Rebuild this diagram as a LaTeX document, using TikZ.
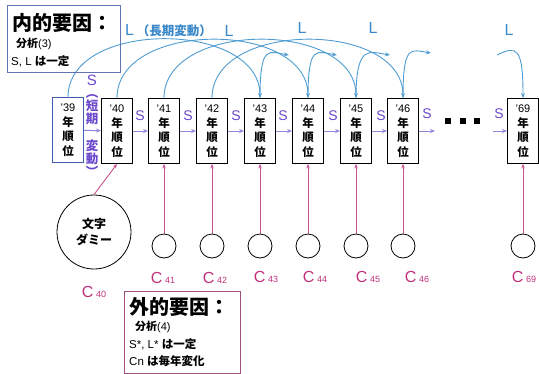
\documentclass[tikz,border=0pt]{standalone}
\usepackage{fontspec}
\setmainfont{Noto Sans CJK JP}
\newfontfamily\lat{Liberation Sans}
\newfontfamily\jpf{Noto Sans CJK JP}
\usetikzlibrary{arrows.meta}
\definecolor{sblue}{HTML}{3A88C8}
\definecolor{arcblue}{HTML}{4E9CD2}
\definecolor{spurple}{HTML}{6A48CC}
\definecolor{sarr}{HTML}{9484DA}
\definecolor{cpink}{HTML}{C0307A}
\definecolor{lpink}{HTML}{C8508E}
\definecolor{inbox}{HTML}{6274B4}
\definecolor{outbox}{HTML}{A0507C}
\definecolor{boxblue}{HTML}{3E5CB0}
\begin{document}
\begin{tikzpicture}[x=1pt,y=-1pt,
  yr/.style={draw=black, line width=0.9pt, minimum width=31pt, minimum height=65pt, inner sep=0pt, align=center, font=\fontsize{11.5}{14.5}\selectfont\bfseries},
  sar/.style={draw=sarr, line width=1pt, -{Stealth[length=5pt,width=4pt]}},
  slab/.style={text=spurple, font=\lat\fontsize{14}{14}\selectfont, inner sep=0pt},
  vlab/.style={text=spurple, font=\fontsize{12.5}{13}\selectfont\bfseries, align=center, inner sep=0pt},
  arc/.style={draw=arcblue, line width=0.9pt, -{Stealth[length=5pt,width=4pt]}},
  llab/.style={text=sblue, font=\lat\fontsize{16}{16}\selectfont, inner sep=0pt},
  sc/.style={circle, draw=black, line width=0.8pt, minimum size=24pt, inner sep=0pt},
  pk/.style={draw=lpink, line width=0.9pt, -{Stealth[length=4.5pt,width=3.5pt]}},
  clab/.style={text=cpink, font=\lat\fontsize{16}{16}\selectfont, inner sep=0pt},
  tl/.style={anchor=west, inner sep=0pt},
]
\useasboundingbox (0,0) rectangle (539,373);
\newcommand{\yrtext}[1]{{\mdseries\lat\fontsize{11}{11}\selectfont ’#1}\\年\\順\\位}
\newcommand{\cl}[1]{C\,{\lat\fontsize{9}{9}\selectfont #1}}

% year boxes
\node[yr, draw=boxblue] (b39) at (68,130) {\yrtext{39}};
\node[yr] (b40) at (117,131) {\yrtext{40}};
\node[yr] (b41) at (164,131) {\yrtext{41}};
\node[yr] (b42) at (212,131) {\yrtext{42}};
\node[yr] (b43) at (260,131) {\yrtext{43}};
\node[yr] (b44) at (308,131) {\yrtext{44}};
\node[yr] (b45) at (356,131) {\yrtext{45}};
\node[yr] (b46) at (403,131) {\yrtext{46}};
\node[yr] (b69) at (523,131) {\yrtext{69}};

% S arrows
\coordinate (e46) at (435,131);
\coordinate (s69) at (493,131);
\draw[sar] (b39) -- (b40);
\draw[sar] (b40) -- (b41);
\draw[sar] (b41) -- (b42);
\draw[sar] (b42) -- (b43);
\draw[sar] (b43) -- (b44);
\draw[sar] (b44) -- (b45);
\draw[sar] (b45) -- (b46);
\draw[sar] (b46) -- (e46);
\draw[sar] (s69) -- (b69);

\node[slab] (sa) at (140,116) {S};
\node[slab] (sb) at (188,116) {S};
\node[slab] (sc1) at (236,116) {S};
\node[slab] (sd) at (283,116) {S};
\node[slab] (se) at (333,116) {S};
\node[slab] (sf) at (381,116) {S};
\node[slab] (sg) at (427,114) {S};
\node[slab] (sh) at (499,114) {S};

\node[slab, font=\lat\fontsize{15}{15}\selectfont] (vs) at (92,80) {S};
\node[vlab] (vtop) at (92,110) {︵\\短\\期};
\node[vlab] (vbot) at (92,158) {変\\動\\︶};

% dots
\fill (445,118) rectangle (451,124);
\fill (460,118) rectangle (466,124);
\fill (474,118) rectangle (480,124);

% long arcs
\draw[arc] (b39.north) .. controls +(0,-78) and +(0,-78) .. (b43.north);
\draw[arc] (b40.north) .. controls +(0,-78) and +(0,-78) .. (b44.north);
\draw[arc] (b41.north) .. controls +(0,-78) and +(0,-78) .. (b45.north);
\draw[arc] (b42.north) .. controls +(0,-78) and +(0,-78) .. (b46.north);

% hooks
\coordinate (h43) at (289,55);
\coordinate (h44) at (337,55);
\coordinate (h45) at (390,55);
\coordinate (h46) at (431,53);
\coordinate (h69) at (497,55);
\draw[arc] (b43.north) .. controls +(0,-55) and +(-20,-3) .. (h43);
\draw[arc] (b44.north) .. controls +(0,-55) and +(-20,-3) .. (h44);
\draw[arc] (b45.north) .. controls +(0,-55) and +(-20,-3) .. (h45);
\draw[arc] (b46.north) .. controls +(0,-55) and +(-20,-3) .. (h46);
\draw[arc] (h69) .. controls +(20,-10) and +(0,-50) .. (b69.north);

% L labels
\node[llab, anchor=west] (l1) at (125,31) {L\,{\jpf\fontsize{12.5}{12.5}\selectfont\bfseries（長期変動）}};
\node[llab] (l2) at (229,31) {L};
\node[llab] (l3) at (302,28) {L};
\node[llab] (l4) at (373,28) {L};
\node[llab] (l5) at (509,30) {L};

% circles
\node[circle, draw=black, line width=0.8pt, minimum size=74pt, inner sep=0pt, align=center, font=\fontsize{12}{15.5}\selectfont\bfseries] (dummy) at (94,232) {文字\\ダミー};
\node[sc] (c41) at (164,246) {};
\node[sc] (c42) at (212,246) {};
\node[sc] (c43) at (260,246) {};
\node[sc] (c44) at (308,246) {};
\node[sc] (c45) at (356,246) {};
\node[sc] (c46) at (403,246) {};
\node[sc] (c69) at (523,246) {};

\draw[pk] (dummy.north) -- (b40.south);
\draw[pk] (c41) -- (b41);
\draw[pk] (c42) -- (b42);
\draw[pk] (c43) -- (b43);
\draw[pk] (c44) -- (b44);
\draw[pk] (c45) -- (b45);
\draw[pk] (c46) -- (b46);
\draw[pk] (c69) -- (b69);

% C labels
\node[clab] (lc40) at (94,292) {\cl{40}};
\node[clab] (lc41) at (163,278) {\cl{41}};
\node[clab] (lc42) at (215,278) {\cl{42}};
\node[clab] (lc43) at (266,277) {\cl{43}};
\node[clab] (lc44) at (315,277) {\cl{44}};
\node[clab] (lc45) at (368,277) {\cl{45}};
\node[clab] (lc46) at (417,277) {\cl{46}};
\node[clab] (lc69) at (524,277) {\cl{69}};

% inner factor box
\node[draw=inbox, line width=1.2pt, minimum width=113pt, minimum height=67pt, anchor=north west, inner sep=0pt] (inner) at (7,5) {};
\node[tl, font=\fontsize{20}{20}\selectfont\bfseries] (in1) at (12,23) {内的要因：};
\node[tl, font=\fontsize{11}{11}\selectfont\bfseries] (in2) at (16,44) {分析{\mdseries\lat(3)}};
\node[tl, font=\fontsize{11.5}{11.5}\selectfont] (in3) at (11,61) {{\lat S, L }\textbf{は一定}};

% outer factor box
\node[draw=outbox, line width=1.2pt, minimum width=116pt, minimum height=82pt, anchor=north west, inner sep=0pt] (outer) at (124,291) {};
\node[tl, font=\fontsize{20}{20}\selectfont\bfseries] (out1) at (129,307) {外的要因：};
\node[tl, font=\fontsize{11}{11}\selectfont\bfseries] (out2) at (135,327) {分析{\mdseries\lat(4)}};
\node[tl, font=\fontsize{11.5}{11.5}\selectfont] (out3) at (129,344) {{\lat S*, L* }\textbf{は一定}};
\node[tl, font=\fontsize{11.5}{11.5}\selectfont] (out4) at (129,361) {{\lat Cn }\textbf{は毎年変化}};
\end{tikzpicture}
\end{document}
